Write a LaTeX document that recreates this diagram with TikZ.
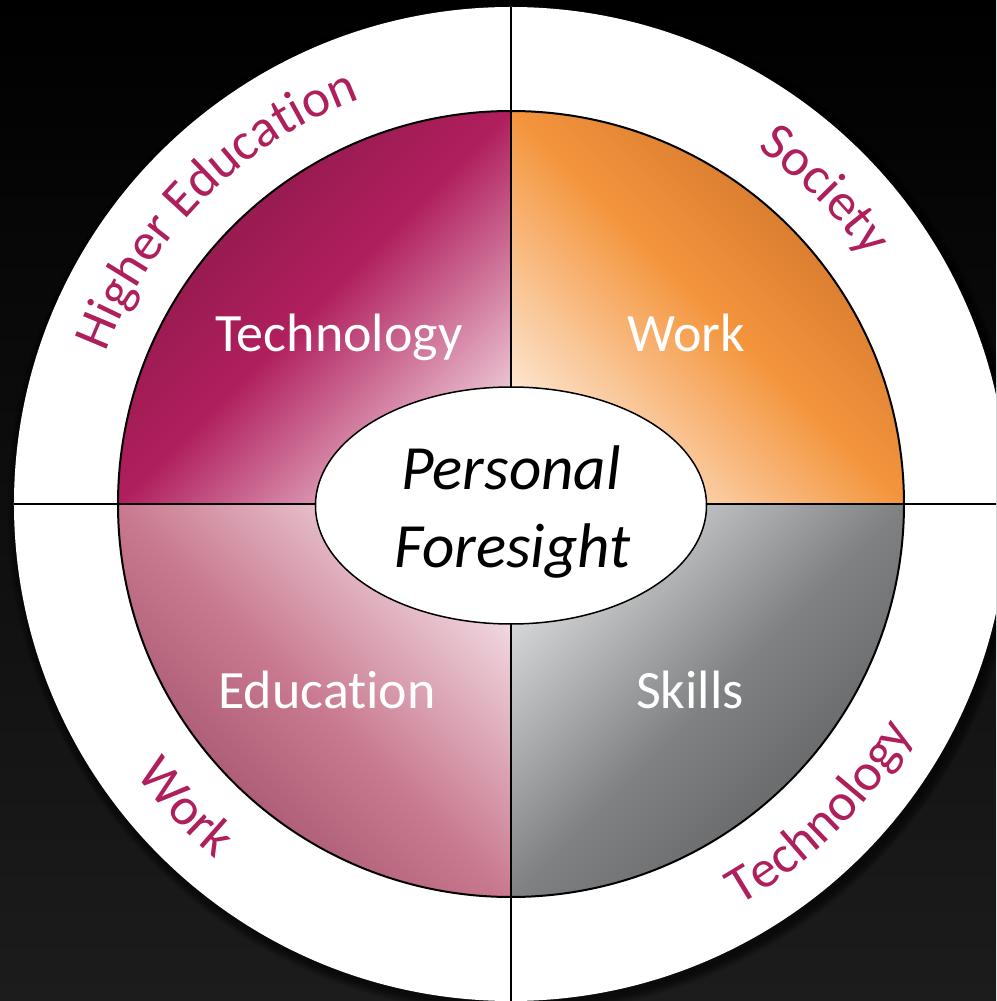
\documentclass[tikz,border=0pt]{standalone}
\usepackage{fontspec}
\setmainfont{Carlito}[Ligatures=NoCommon]
\usetikzlibrary{decorations.text,shapes.geometric}

\definecolor{arcmag}{HTML}{AE1F5C}
\definecolor{tlA}{HTML}{861848}
\definecolor{tlB}{HTML}{B01F5D}
\definecolor{tlC}{HTML}{EBC3D2}
\definecolor{trA}{HTML}{FDE5CF}
\definecolor{trB}{HTML}{F4953D}
\definecolor{trC}{HTML}{C96E27}
\definecolor{brA}{HTML}{D6D7D8}
\definecolor{brB}{HTML}{808183}
\definecolor{brC}{HTML}{5C5D5F}
\definecolor{blA}{HTML}{9C4C66}
\definecolor{blB}{HTML}{C97A90}
\definecolor{blC}{HTML}{F1D9E1}
\definecolor{bgbot}{HTML}{1C1C1C}

\pgfdeclarehorizontalshading{shTL}{100bp}{color(0bp)=(tlA); color(25bp)=(tlA); color(50bp)=(tlB); color(75bp)=(tlC); color(100bp)=(tlC)}
\pgfdeclarehorizontalshading{shTR}{100bp}{color(0bp)=(trA); color(25bp)=(trA); color(50bp)=(trB); color(75bp)=(trC); color(100bp)=(trC)}
\pgfdeclarehorizontalshading{shBR}{100bp}{color(0bp)=(brA); color(25bp)=(brA); color(50bp)=(brB); color(75bp)=(brC); color(100bp)=(brC)}
\pgfdeclarehorizontalshading{shBL}{100bp}{color(0bp)=(blA); color(25bp)=(blA); color(50bp)=(blB); color(75bp)=(blC); color(100bp)=(blC)}

\newcommand\myarcfont{\fontsize{53}{53}\selectfont}

\begin{document}
\begin{tikzpicture}[x=1pt,y=1pt,
  quadlab/.style={text=white, font=\fontsize{54}{60}\selectfont, anchor=base, inner sep=0pt},
  pflab/.style={text=black, font=\fontsize{63}{77}\selectfont\itshape, anchor=base, inner sep=0pt},
  crossline/.style={line width=1.5pt, draw=black},
  ringtext/.style={decorate, decoration={text along path, text align=center, text color=arcmag, text={|\myarcfont|#1}}}
]
\useasboundingbox (-511,-497) rectangle (485,504);
\clip (-511,-497) rectangle (485,504);
\shade[top color=black, middle color=black, bottom color=bgbot] (-511,-497) rectangle (485,504);

% soft shadow of the outer disc
\foreach \k in {1,...,10} {\fill[black, opacity=0.07] (3,-4) circle[radius=497+\k];}

% outer white disc
\node[circle, fill=white, minimum size=994pt, inner sep=0pt, outer sep=0pt] (outer) at (0,0) {};

% four quadrants
\shade[shading=shTL, shading angle=-45] (0,0) -- (180:393) arc[start angle=180, end angle=90, radius=393] -- cycle;
\shade[shading=shTR, shading angle=45] (0,0) -- (90:393) arc[start angle=90, end angle=0, radius=393] -- cycle;
\shade[shading=shBR, shading angle=-45] (0,0) -- (0:393) arc[start angle=360, end angle=270, radius=393] -- cycle;
\shade[shading=shBL, shading angle=45] (0,0) -- (270:393) arc[start angle=270, end angle=180, radius=393] -- cycle;

\node[circle, draw=black, line width=2pt, minimum size=786pt, inner sep=0pt, outer sep=0pt] (inner) at (0,0) {};

% cross lines
\draw[crossline] (outer.north) -- (outer.south);
\draw[crossline] (outer.west) -- (outer.east);

% centre ellipse
\node[ellipse, draw=black, line width=1.5pt, fill=white, minimum width=391pt, minimum height=237pt, inner sep=0pt] (pf) at (0,-1.5) {};
\node[pflab] (pf1) at (0,14) {Personal};
\node[pflab] (pf2) at (1.5,-63) {Foresight};

% quadrant labels
\node[quadlab] (qtl) at (-172,152) {Technology};
\node[quadlab] (qtr) at (175,152) {Work};
\node[quadlab] (qbl) at (-184,-204) {Educat\kern0pt ion};
\node[quadlab] (qbr) at (179,-204) {Skills};

% ring texts
\path[ringtext={Higher Education}] (180:432) arc[start angle=180, end angle=90, radius=432];
\path[ringtext={Society}] (90:432) arc[start angle=90, end angle=0, radius=432];
\path[ringtext={Work}] (178:462) arc[start angle=178, end angle=268, radius=462];
\path[ringtext={Technology}] (270:462) arc[start angle=270, end angle=360, radius=462];
\end{tikzpicture}
\end{document}
